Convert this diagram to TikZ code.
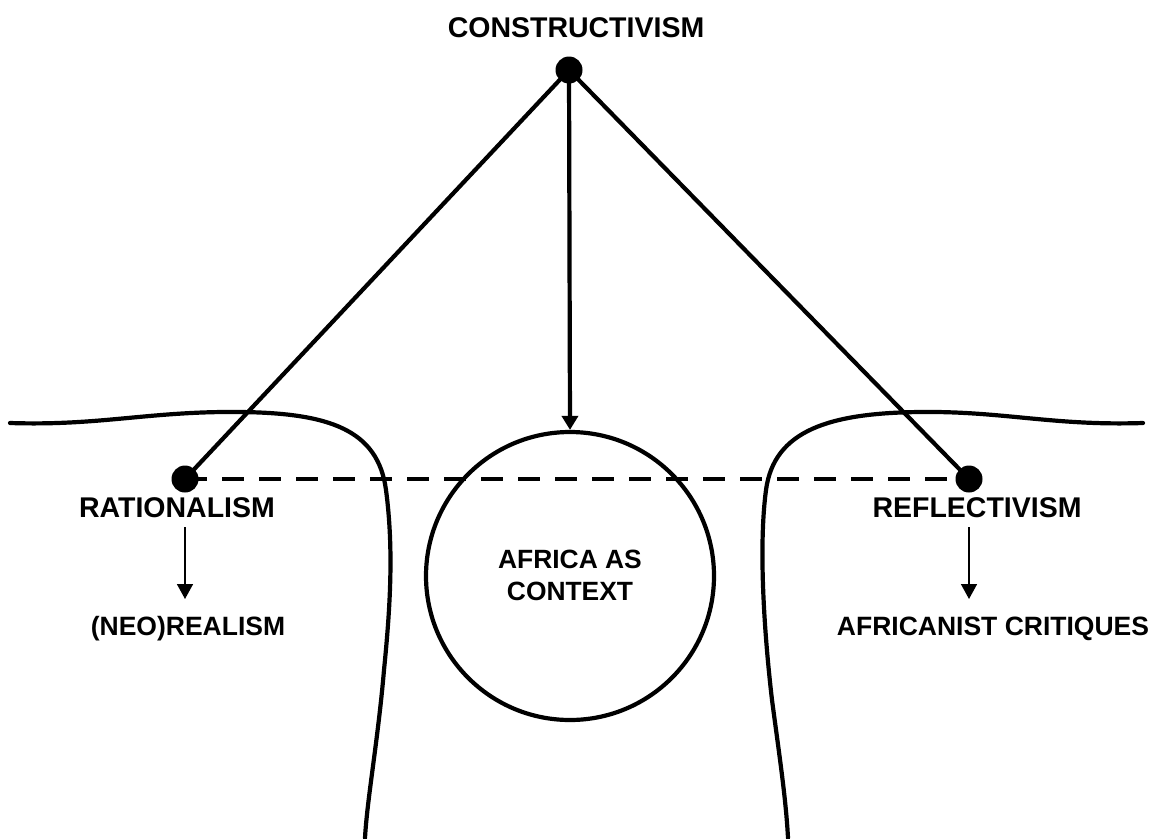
\documentclass[tikz,border=0pt]{standalone}
\usepackage{fontspec}
\setmainfont{Liberation Sans}
\usetikzlibrary{arrows.meta}
\begin{document}
\begin{tikzpicture}[x=1pt,y=-1pt,
  label text/.style={font=\fontsize{28.5}{33}\selectfont\bfseries, inner sep=0pt, anchor=base},
  sub text/.style={font=\fontsize{26.5}{31}\selectfont\bfseries, inner sep=0pt, anchor=base},
  dot/.style={circle, fill=black, minimum size=27pt, inner sep=0pt},
  heavy/.style={line width=4.2pt},
  thin arrow/.style={line width=1.6pt, -{Triangle[width=16pt,length=15pt]}},
  thick arrow/.style={heavy, -{Triangle[width=16pt,length=14pt]}},
  border/.style={line width=4.2pt, line cap=round}
]
\useasboundingbox (0,0) rectangle (1153,838);

% boundary curves
\draw[border] (10,423) .. controls (100,426) and (150,411) .. (240,412)
  .. controls (330,413) and (378,430) .. (386,490)
  .. controls (394,550) and (390,610) .. (384,670)
  .. controls (378,740) and (367,800) .. (365,838);
\draw[border] (1143,423) .. controls (1053,426) and (1003,411) .. (920,412)
  .. controls (830,413) and (774,430) .. (766,490)
  .. controls (758,550) and (765,640) .. (772,700)
  .. controls (780,760) and (786,800) .. (788,838);

% circle
\node[circle, draw, line width=4.2pt, minimum size=288pt, inner sep=0pt] (africa) at (570,576) {};
\node[font=\fontsize{26.4}{32}\selectfont\bfseries, align=center, inner sep=0pt] (africatext) at (570,575) {AFRICA AS\\CONTEXT};

% dots
\node[dot] (top) at (569,70) {};
\node[dot] (rdot) at (185,479) {};
\node[dot] (fdot) at (969,479) {};

% labels
\node[label text] (constr) at (576,37) {CONSTRUCTIVISM};
\node[label text] (rat) at (177,517) {RATIONALISM};
\node[label text] (refl) at (977,517) {REFLECTIVISM};
\node[sub text] (neo) at (188,635) {(NEO)REALISM};
\node[sub text] (afr) at (993,635) {AFRICANIST CRITIQUES};

% connectors
\draw[heavy] (top.center) -- (rdot.center);
\draw[heavy] (top.center) -- (fdot.center);
\draw[thick arrow] (top.center) -- (africa.north);
\draw[line width=4.5pt, dash pattern=on 22pt off 15pt] (rdot.center) -- (fdot.center);

\coordinate (ra1) at (185,527);
\coordinate (ra2) at (185,599);
\coordinate (fa1) at (969,527);
\coordinate (fa2) at (969,599);
\draw[thin arrow] (ra1) -- (ra2);
\draw[thin arrow] (fa1) -- (fa2);
\end{tikzpicture}
\end{document}
